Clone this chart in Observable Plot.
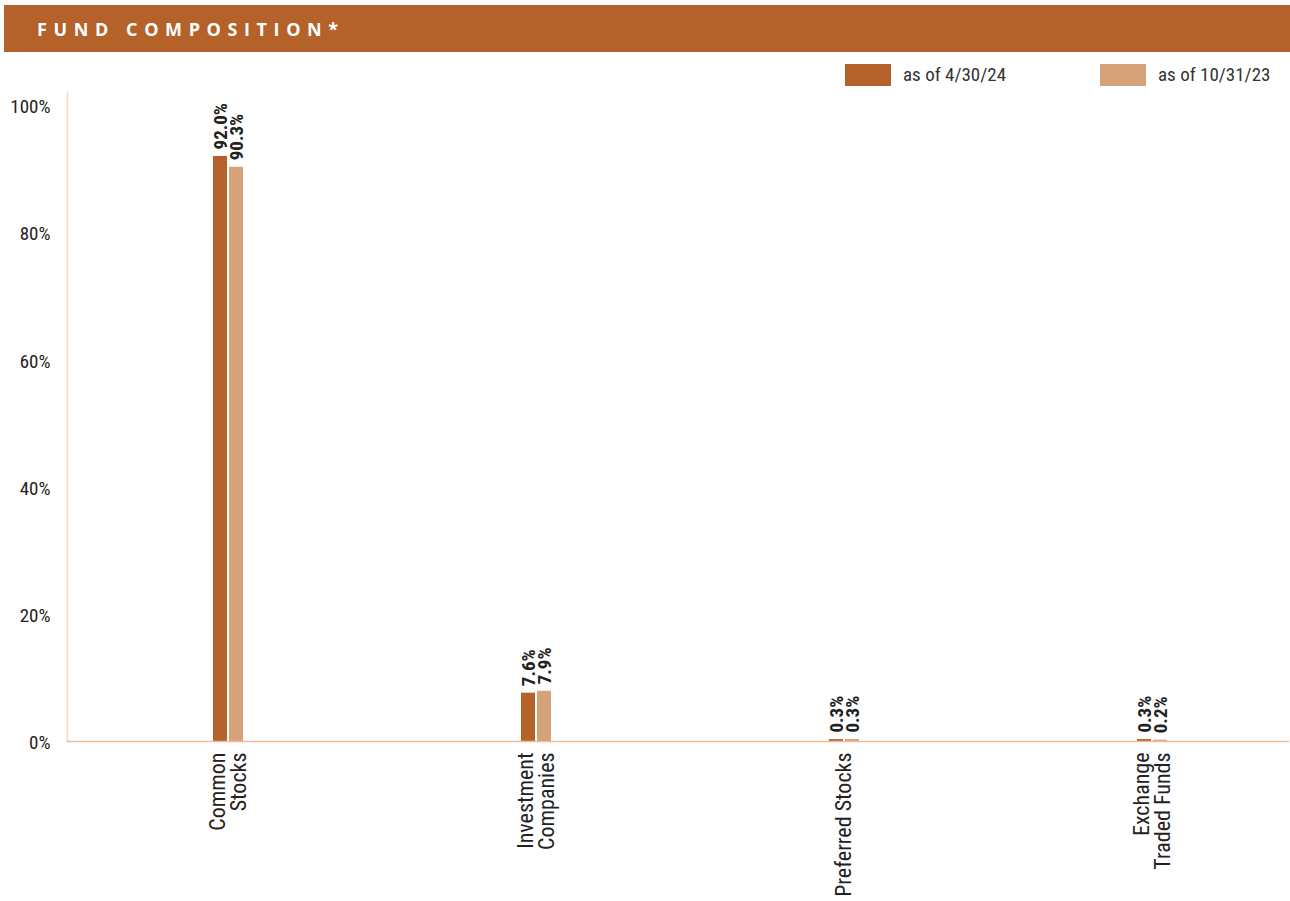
<!DOCTYPE html>
<html><head><meta charset="utf-8">
<script src="https://cdn.jsdelivr.net/npm/d3@7"></script>
<script src="https://cdn.jsdelivr.net/npm/@observablehq/plot@0.6"></script>
<style>
body{margin:0;background:#fff;}
#wrap{position:relative;width:1290px;height:901px;overflow:hidden;font-family:"Liberation Sans Narrow","Roboto Condensed",Roboto,sans-serif;}
#header{position:absolute;left:4px;top:5px;width:1286px;height:47px;background:#B5612A;}
#title{position:absolute;left:33px;top:14px;color:#fff;font-family:"Open Sans","DejaVu Sans",sans-serif;font-weight:700;font-size:18px;letter-spacing:6.6px;line-height:20px;}
.sw{position:absolute;top:64px;width:46px;height:22px;}
.lt{position:absolute;top:63px;font-size:19px;color:#333;line-height:24px;}
#chart{position:absolute;left:0;top:0;}
</style></head>
<body><div id="wrap">
<div id="header"><div id="title">FUND COMPOSITION*</div></div>
<div id="legend"></div>
<div id="chart"></div>
</div>
<script>
const categories = ["Common Stocks", "Investment Companies", "Preferred Stocks", "Exchange Traded Funds"];
const tickLabels = ["Common\nStocks", "Investment\nCompanies", "Preferred Stocks", "Exchange\nTraded Funds"];
const series = ["as of 4/30/24", "as of 10/31/23"];
const current = [92.0, 7.6, 0.3, 0.3];
const prior = [90.3, 7.9, 0.3, 0.2];
const yTicks = [0, 20, 40, 60, 80, 100];
const colors = ["#B5612A", "#D6A27A"];

const data = categories.flatMap((c, i) => [
  {category: c, series: series[0], value: current[i]},
  {category: c, series: series[1], value: prior[i]}
]);
const A = data.filter(d => d.series === series[0]);
const B = data.filter(d => d.series === series[1]);

// legend
const legend = document.getElementById("legend");
[[845, 903], [1100, 1158]].forEach(([sx, tx], i) => {
  const s = document.createElement("div"); s.className = "sw"; s.style.left = sx + "px"; s.style.background = colors[i]; legend.appendChild(s);
  const t = document.createElement("div"); t.className = "lt"; t.style.left = tx + "px"; t.textContent = series[i]; legend.appendChild(t);
});

const font = '"Liberation Sans Narrow","Roboto Condensed",Roboto,sans-serif';
const chart = Plot.plot({
  width: 1290, height: 901,
  marginTop: 93, marginBottom: 160, marginLeft: 67, marginRight: 2,
  style: {fontFamily: font, fontSize: "18px", color: "#222", background: "transparent"},
  x: {domain: categories, range: [74, 1307], paddingInner: 0.902, paddingOuter: 0.451, axis: null, label: null},
  y: {domain: [0, 101.9], axis: null, label: null},
  color: {domain: series, range: colors},
  marks: [
    Plot.frame({anchor: "left", stroke: "#F2D8C5", strokeWidth: 1.5}),
    Plot.axisY({ticks: yTicks, tickFormat: d => d + "%", tickSize: 0, tickPadding: 17, fontSize: 19, dy: 1.5, label: null}),
    Plot.axisX({tickFormat: d => tickLabels[categories.indexOf(d)], tickRotate: -90, tickSize: 0, tickPadding: 11, fontSize: 22, lineHeight: 0.95, label: null}),
    Plot.barY(A, {x: "category", y: "value", fill: "series", insetRight: 16}),
    Plot.barY(B, {x: "category", y: "value", fill: "series", insetLeft: 16}),
    Plot.frame({anchor: "bottom", stroke: "#EDBC9C", strokeWidth: 1.5}),
    Plot.text(A, {x: "category", y: "value", text: d => d.value.toFixed(1) + "%", rotate: -90, textAnchor: "start", lineAnchor: "middle", dx: -8, dy: -7, fontWeight: "bold", fontSize: 19, fill: "#222"}),
    Plot.text(B, {x: "category", y: "value", text: d => d.value.toFixed(1) + "%", rotate: -90, textAnchor: "start", lineAnchor: "middle", dx: 8, dy: -7, fontWeight: "bold", fontSize: 19, fill: "#222"})
  ]
});
document.getElementById("chart").appendChild(chart);
</script>
</body></html>
